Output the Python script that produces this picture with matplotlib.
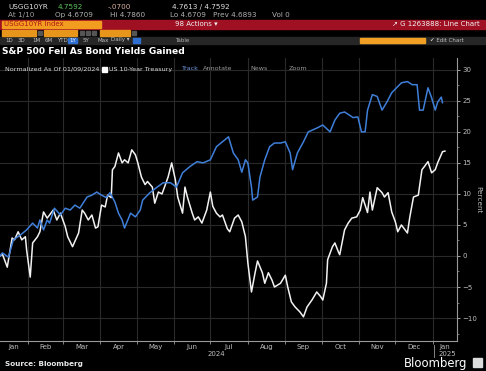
import numpy as np
import pandas as pd
import matplotlib
matplotlib.use("Agg")
import matplotlib.pyplot as plt
from matplotlib.patches import Rectangle

W, H = 486, 371
START = pd.Timestamp("2024-01-09")
END = pd.Timestamp("2025-01-21")

# values: days since 9 Jan 2024, percent change
tsy_days = [0, 2, 6, 10, 12, 15, 18, 21, 22, 25, 27, 31, 33, 36, 39, 41, 44, 47, 50, 54,
            56, 60, 65, 68, 70, 73, 76, 79, 81, 84, 87, 89, 92, 93, 95, 98, 101, 103, 106, 109,
            112, 114, 117, 120, 122, 126, 128, 131, 134, 136, 139, 142, 145, 147, 151, 153, 155, 159, 161, 164,
            167, 171, 174, 176, 179, 182, 184, 188, 190, 194, 197, 200, 203, 205, 208, 211, 213, 217, 219, 222,
            225, 227, 232, 236, 238, 241, 244, 248, 251, 254, 258, 262, 265, 267, 270, 271, 275, 277, 280, 281,
            285, 288, 291, 295, 298, 300, 304, 306, 308, 312, 316, 318, 321, 324, 327, 329, 332, 337, 339, 342,
            346, 349, 351, 354, 357, 360, 362, 366, 368]
tsy_vals = [0.0, 0.3, -1.8, 2.9, 2.6, 3.9, 2.6, 3.1, 1.0, -3.4, 2.1, 3.1, 3.9, 7.1, 6.1, 6.6, 7.4, 5.8, 6.9, 4.7,
            3.1, 1.5, 3.7, 7.4, 6.9, 5.8, 6.6, 4.5, 4.7, 8.2, 7.9, 9.8, 9.4, 13.9, 14.4, 16.6, 15.0, 15.5, 15.0, 17.1,
            16.3, 15.0, 12.7, 11.5, 12.0, 11.1, 8.5, 10.3, 10.0, 11.1, 12.7, 15.0, 12.3, 9.5, 6.9, 11.1, 9.5, 6.9, 5.8, 6.3,
            5.3, 7.4, 10.3, 8.0, 6.9, 6.3, 6.6, 4.4, 3.9, 6.1, 6.6, 5.5, 3.1, -1.1, -5.8, -2.7, -0.8, -2.7, -4.4, -2.7,
            -3.9, -5.0, -4.4, -3.1, -5.0, -7.4, -8.2, -9.0, -9.8, -8.2, -7.1, -5.8, -6.5, -7.1, -4.4, -0.6, 1.5, 2.1, 0.6, 0.2,
            4.2, 5.3, 6.1, 6.3, 7.4, 9.4, 7.0, 10.3, 7.4, 11.0, 10.2, 9.5, 10.2, 7.1, 5.5, 3.9, 5.0, 3.7, 6.3, 9.5,
            9.8, 13.9, 14.4, 15.2, 13.4, 13.9, 15.0, 16.8, 16.9]

spx_days = [0, 2, 7, 11, 17, 22, 27, 31, 33, 36, 39, 41, 45, 50, 54, 58, 62, 66, 72, 76,
            80, 84, 88, 91, 95, 98, 101, 103, 108, 112, 116, 118, 124, 130, 135, 141, 146, 151, 157, 163,
            168, 174, 179, 184, 189, 193, 197, 200, 203, 205, 208, 209, 213, 215, 219, 223, 227, 232, 236, 240,
            242, 246, 251, 255, 262, 267, 273, 277, 281, 285, 289, 292, 296, 299, 302, 304, 308, 312, 316, 320,
            324, 328, 332, 337, 341, 345, 347, 350, 354, 357, 360, 362, 365, 366]
spx_vals = [0.0, 0.5, -0.2, 2.6, 3.4, 4.2, 5.3, 4.5, 5.8, 4.2, 5.8, 5.3, 7.7, 6.6, 7.7, 7.4, 8.2, 7.7, 9.5, 9.8,
            10.3, 9.8, 9.4, 10.2, 8.7, 6.9, 5.8, 4.5, 6.9, 6.3, 7.4, 9.0, 10.2, 11.1, 11.8, 11.8, 11.1, 13.4, 14.4, 15.2,
            15.0, 15.5, 17.6, 18.4, 19.2, 16.6, 15.5, 13.5, 15.5, 15.0, 11.1, 9.0, 9.5, 12.7, 15.5, 17.6, 18.2, 18.2, 18.4, 16.6,
            13.9, 16.6, 18.4, 20.0, 20.6, 21.1, 20.0, 21.9, 23.0, 23.2, 22.7, 22.3, 22.4, 20.0, 20.0, 23.5, 26.0, 25.7, 23.5, 24.8,
            26.3, 27.1, 27.9, 28.1, 27.6, 27.6, 23.5, 23.5, 27.1, 25.5, 23.5, 24.8, 25.6, 24.7]

month_labels = ['Jan', 'Feb', 'Mar', 'Apr', 'May', 'Jun', 'Jul', 'Aug', 'Sep', 'Oct', 'Nov', 'Dec', 'Jan']

tsy_dates = START + pd.to_timedelta(tsy_days, unit="D")
spx_dates = START + pd.to_timedelta(spx_days, unit="D")

BG = "#000000"
TXT = "#d0d0d0"
GRID = "#2a2a2a"
BLUE = "#3f7fd9"


def fx(x):
    return x / W


def fy(y):
    return 1 - y / H


def box(x0, y0, x1, y1, color, z=1):
    fig.patches.append(Rectangle((fx(x0), fy(y1)), fx(x1 - x0), (y1 - y0) / H,
                                 transform=fig.transFigure, color=color, zorder=z))


def put(x, y, s, color=TXT, size=5.2, weight="normal", ha="left"):
    fig.text(fx(x), fy(y), s, color=color, fontsize=size, weight=weight,
             ha=ha, va="center", family="DejaVu Sans")


fig = plt.figure(figsize=(W / 100, H / 100), dpi=100, facecolor=BG)

# ---- terminal header ----
put(8, 7, "USGG10YR", "#e0e0e0")
put(58, 7, "4.7592", "#5cc45c")
put(108, 7, "-.0700", "#d8b0a0")
put(172, 7, "4.7613 / 4.7592", "#e0e0e0")
put(8, 15, "At 1/10", "#a0a0a0")
put(55, 15, "Op 4.6709", "#b0b0b0")
put(110, 15, "Hi 4.7860", "#b0b0b0")
put(170, 15, "Lo 4.6709", "#b0b0b0")
put(213, 15, "Prev 4.6893", "#b0b0b0")
put(272, 15, "Vol 0", "#b0b0b0")

box(0, 20, W, 28.5, "#9e1022", 0)
box(2, 20.5, 101, 28, "#f29d1f")
put(4, 24, "USGG10YR Index", "#b01818", 5.0)
put(175, 24, "98 Actions \u25be", "#f0f0f0", 5.0)
put(480, 24, "\u2197 G 1263888: Line Chart", "#f4f4f4", 5.0, ha="right")

for x0, x1 in [(2, 36), (44, 77), (100, 130)]:
    box(x0, 30, x1, 36, "#e8951c")
for x0 in [38, 80, 86, 92, 132]:
    box(x0, 31, x0 + 4, 35, "#555555")

box(0, 36.5, W, 44, "#262626", 0)
for x, s in [(5, "1D"), (18, "3D"), (32, "1M"), (45, "6M"), (57, "YTD")]:
    put(x, 40, s, "#c0c0c0", 4.0)
box(68, 37.5, 77, 43, "#2f6fd0")
put(69, 40, "1Y", "#ffffff", 4.0)
for x, s in [(83, "5Y"), (97, "Max"), (111, "Daily \u25be")]:
    put(x, 40, s, "#c0c0c0", 4.0)
box(133, 37.5, 140, 43, "#2f6fd0")
put(175, 40, "Table", "#b0b0b0", 4.0)
box(360, 37.5, 425, 43, "#f2a024")
put(430, 40, "\u2714 Edit Chart", "#c0c0c0", 4.0)

put(2, 51, "S&P 500 Fell As Bond Yields Gained", "#ffffff", 6.6, "bold")

# ---- chart ----
ax = fig.add_axes([0, fy(341), fx(457), (341 - 58) / H])
ax.set_facecolor(BG)
ax.plot(tsy_dates, tsy_vals, color="#f2f2f2", lw=1.1, zorder=3)
ax.plot(spx_dates, spx_vals, color=BLUE, lw=1.1, zorder=3)

ax.set_xlim(START, END)
ax.set_ylim(-13.7, 31.9)

ax.yaxis.tick_right()
ax.set_yticks(np.arange(-10, 31, 5))
ax.set_yticks(np.arange(-12.5, 31, 2.5), minor=True)
ax.tick_params(axis="y", which="major", colors="#bdbdbd", labelsize=5, length=2.5, width=0.6, pad=1.5)
ax.tick_params(axis="y", which="minor", colors="#9a9a9a", length=1.2, width=0.5)

month_starts = pd.date_range("2024-02-01", "2025-01-01", freq="MS")
ax.set_xticks(month_starts)
ax.xaxis.set_major_formatter(plt.NullFormatter())
edges = [START] + list(month_starts) + [END]
mids = [a + (b - a) / 2 for a, b in zip(edges[:-1], edges[1:])]
ax.set_xticks(mids, minor=True)
ax.set_xticklabels(month_labels, minor=True)
ax.tick_params(axis="x", which="major", colors="#9a9a9a", length=2.5, width=0.6)
ax.tick_params(axis="x", which="minor", colors="#bdbdbd", labelsize=5, length=0, pad=2)

ax.grid(True, which="major", color=GRID, lw=0.8)
for s in ["top", "left"]:
    ax.spines[s].set_visible(False)
for s in ["right", "bottom"]:
    ax.spines[s].set_color("#9a9a9a")
    ax.spines[s].set_linewidth(0.8)

# year labels under the month labels
put(216, 353.5, "2024", "#bdbdbd", 5, ha="center")
put(447, 353.5, "2025", "#bdbdbd", 5, ha="center")
fig.lines.append(plt.Line2D([fx(434), fx(434)], [fy(345), fy(357)], transform=fig.transFigure,
                            color="#9a9a9a", lw=0.6))

fig.text(fx(478), fy(200), "Percent", color="#bdbdbd", fontsize=5.2, rotation=270,
         ha="center", va="center")

# legend row
put(5, 69, "Normalized As Of 01/09/2024", "#dcdcdc", 4.6)
box(102, 66.5, 107, 71.5, "#ffffff", 2)
put(109, 69, "US 10-Year Treasury", "#dcdcdc", 4.6)
put(181, 68, "Track", "#6f98e0", 4.6)
put(203, 68, "Annotate", "#9a9a9a", 4.6)
put(250, 69, "News", "#9a9a9a", 4.6)
put(289, 69, "Zoom", "#9a9a9a", 4.6)

# footer
put(5, 364, "Source: Bloomberg", "#e8e8e8", 5.2, "bold")
put(467, 363, "Bloomberg", "#ffffff", 8.4, ha="right")
box(473, 358, 482, 367, "#dcdcdc", 2)

fig.savefig("out.png", dpi=100, facecolor=BG)
